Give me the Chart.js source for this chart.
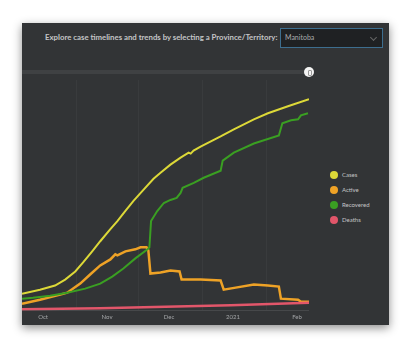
<!DOCTYPE html>
<html>
<head>
<meta charset="utf-8">
<script src="https://cdn.jsdelivr.net/npm/chart.js@4.4.1/dist/chart.umd.min.js"></script>
<style>
  html, body { margin: 0; padding: 0; background: #ffffff; width: 412px; height: 348px; overflow: hidden; }
  #panel { position: absolute; left: 22px; top: 23px; width: 367px; height: 302px; background: #323436;
           box-shadow: 0 3px 9px rgba(0,0,0,0.45); }
  #title { position: absolute; left: 45px; top: 32px; font: bold 7.8px Lato, "Open Sans", sans-serif; color: #c4c5c6; white-space: nowrap; }
  #select { position: absolute; left: 280px; top: 28px; width: 101px; height: 18px; background: #1f2123;
            border: 1px solid #3d6e8f; box-sizing: content-box; }
  #select span { position: absolute; left: 4px; top: 4px; font: 7px Lato, sans-serif; color: #a9abad; }
  #select i { position: absolute; right: 6px; top: 6px; width: 4px; height: 4px; border-right: 1px solid #666; border-bottom: 1px solid #666; transform: rotate(45deg); }
  #track { position: absolute; left: 22px; top: 70px; width: 287px; height: 4px; background: #3f4143; }
  #knob { position: absolute; left: 304px; top: 67px; width: 10px; height: 10px; border-radius: 50%; background: #f4f4f4; }
  #knob::after { content: ""; position: absolute; left: 4px; top: 3px; width: 2px; height: 4px; border: 0.5px solid #999; border-radius: 1px; }
  #chartBox { position: absolute; left: 22px; top: 80px; width: 287px; height: 244px; }
  #legend { position: absolute; left: 330px; top: 170px; font: 6px Lato, sans-serif; color: #c4c5c6; }
  #legend div { position: relative; height: 15px; line-height: 10px; padding-left: 12px; }
  #legend b { position: absolute; left: 0; top: 1px; width: 8px; height: 8px; border-radius: 50%; }
</style>
</head>
<body>
<div id="panel"></div>
<div id="title">Explore case timelines and trends by selecting a Province/Territory:</div>
<div id="select"><span>Manitoba</span><i></i></div>
<div id="track"></div>
<div id="knob"></div>
<div id="chartBox"><canvas id="c"></canvas></div>
<div id="legend"></div>
<script>
// x = days since 1 Oct 2020
const tickDays   = [0, 31, 61, 92, 123];
const tickLabels = ['Oct', 'Nov', 'Dec', '2021', 'Feb'];
const gridDays   = [16, 46, 77, 108];

const seriesNames  = ['Cases', 'Active', 'Recovered', 'Deaths'];
const seriesColors = ['#dcd838', '#eea226', '#3a9f22', '#e2566a'];

const casesDays = [-10.2, -1.5, 5.8, 10.7, 15.6, 19.4, 23.8, 27.7, 32.6, 36.0, 39.4, 43.8, 48.6, 53.5, 56.9, 61.7, 66.6, 70.5, 71.5, 72.9, 76.3, 86.0, 92.4, 102.1, 108.9, 118.6, 128.8];
const casesVals = [2430, 3000, 3580, 4430, 5580, 6860, 8440, 9870, 11580, 12730, 14010, 15590, 17160, 18730, 19590, 20740, 21740, 22450, 22310, 22740, 23310, 24740, 25740, 27170, 28030, 29030, 30030];

const activeDays = [-10.2, -1.5, 8.3, 11.7, 18.0, 22.8, 27.7, 32.6, 35.0, 36.0, 39.9, 44.7, 47.2, 50.1, 51.0, 52.0, 56.9, 61.7, 66.1, 67.1, 76.3, 86.0, 87.5, 93.3, 102.1, 108.9, 114.2, 115.2, 123.5, 124.9, 128.8];
const activeVals = [1000, 1570, 2290, 2570, 3860, 5150, 6440, 7290, 8010, 7870, 8440, 8720, 9010, 9010, 8580, 5290, 5430, 5720, 5580, 4430, 4430, 4290, 3000, 3290, 3720, 3580, 3430, 1720, 1570, 1290, 1290];

const recoveredDays = [-10.2, -4.9, 3.4, 11.7, 20.4, 27.7, 33.5, 38.9, 44.7, 50.6, 51.5, 52.3, 55.3, 58.5, 61.7, 64.7, 66.6, 67.6, 73.0, 77.8, 86.0, 87.0, 92.4, 102.1, 114.2, 115.9, 120.1, 123.5, 124.9, 128.3];
const recoveredVals = [1720, 1860, 2150, 2570, 3150, 3860, 4860, 6010, 7440, 8720, 9010, 12730, 14160, 15300, 15730, 16020, 16730, 17450, 18160, 18880, 19880, 21310, 22450, 23740, 24880, 26600, 27030, 27170, 27740, 28030];

const deathsDays = [-10.2, 27.7, 59.3, 90.9, 128.8];
const deathsVals = [215, 360, 570, 790, 1145];

const seriesDays = [casesDays, activeDays, recoveredDays, deathsDays];
const seriesVals = [casesVals, activeVals, recoveredVals, deathsVals];
const seriesWidths = [2, 2.5, 2, 2.5];

const datasets = seriesNames.map((name, i) => ({
  label: name,
  data: seriesDays[i].map((d, k) => ({ x: d, y: seriesVals[i][k] })),
  borderColor: seriesColors[i],
  backgroundColor: seriesColors[i],
  borderWidth: seriesWidths[i],
  pointRadius: 0,
  tension: 0,
  fill: false
})).reverse();

new Chart(document.getElementById('c'), {
  type: 'line',
  data: { datasets },
  options: {
    responsive: true,
    maintainAspectRatio: false,
    animation: false,
    layout: { padding: 0 },
    plugins: { legend: { display: false }, tooltip: { enabled: false } },
    scales: {
      x: {
        type: 'linear', min: -10.2, max: 128.8,
        afterBuildTicks: (axis) => { axis.ticks = tickDays.map(v => ({ value: v })); },
        ticks: {
          callback: (v) => tickLabels[tickDays.indexOf(v)],
          color: '#a3a5a7', font: { size: 6, family: 'Lato' }, padding: 3, maxRotation: 0, autoSkip: false
        },
        grid: { display: false, drawTicks: false, tickLength: 0 },
        border: { display: true, color: '#46484a', width: 1 }
      },
      x2: {
        type: 'linear', min: -10.2, max: 128.8, position: 'top',
        afterBuildTicks: (axis) => { axis.ticks = gridDays.map(v => ({ value: v })); },
        ticks: { display: false },
        grid: { color: 'rgba(255,255,255,0.035)', drawTicks: false, tickLength: 0 },
        border: { display: false }
      },
      y: {
        display: false, min: 0, max: 32750
      }
    }
  }
});

const legend = document.getElementById('legend');
seriesNames.forEach((n, i) => {
  const row = document.createElement('div');
  const dot = document.createElement('b');
  dot.style.background = seriesColors[i];
  row.appendChild(dot);
  row.appendChild(document.createTextNode(n));
  legend.appendChild(row);
});
</script>
</body>
</html>
